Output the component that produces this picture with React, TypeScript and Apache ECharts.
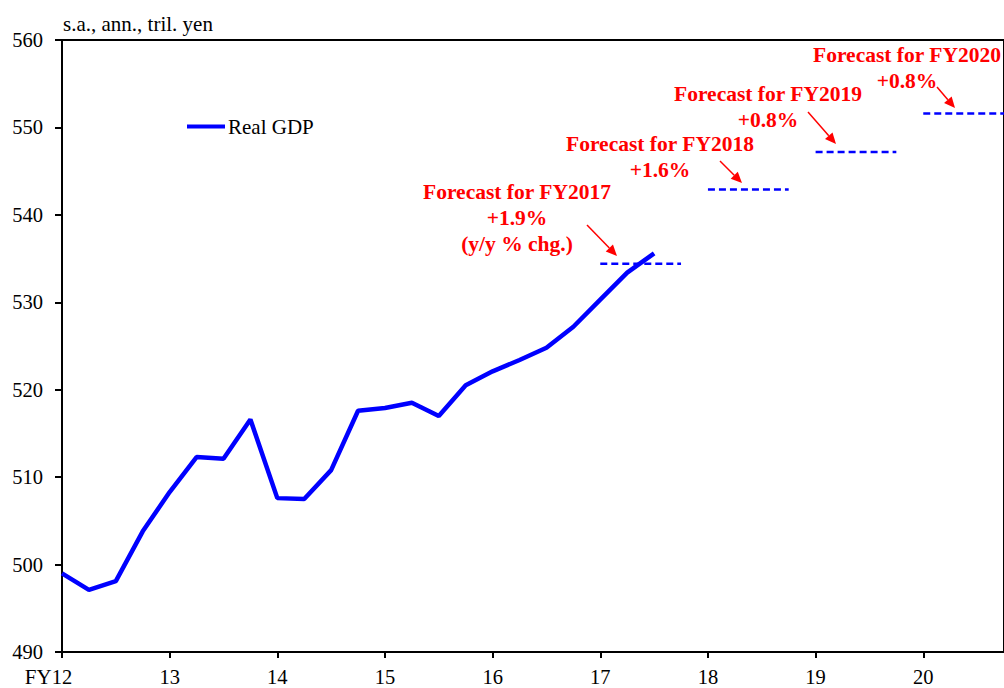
import React, { useEffect, useRef } from "react";
import * as echarts from "echarts";

// Fiscal years shown on the x axis (each split into four quarters)
const fiscalYears = ["12", "13", "14", "15", "16", "17", "18", "19", "20"];
// Real GDP, s.a., annualized, trillion yen, FY2012Q1 .. FY2017Q3
const realGdp = [
  499.0, 497.1, 498.1, 503.8, 508.3, 512.3, 512.1, 516.6, 507.6, 507.5,
  510.8, 517.6, 517.9, 518.5, 517.0, 520.5, 522.1, 523.4, 524.8, 527.2,
  530.3, 533.4, 535.6,
];
// Forecast levels (fiscal-year averages)
const forecastYears = ["17", "18", "19", "20"];
const forecastLevels = [534.4, 542.9, 547.2, 551.6];
const forecastLabels = [
  "Forecast for FY2017\n+1.9%\n(y/y % chg.)",
  "Forecast for FY2018\n+1.6%",
  "Forecast for FY2019\n+0.8%",
  "Forecast for FY2020\n+0.8%",
];
const yTicks = { min: 490, max: 560, interval: 10 };
const unitLabel = "s.a., ann., tril. yen";

const SERIF = "'Liberation Serif', 'Times New Roman', serif";

export default function App() {
  const ref = useRef<HTMLDivElement>(null);

  useEffect(() => {
    document.body.style.margin = "0";
    if (!ref.current) return;
    const chart = echarts.init(ref.current, undefined, { renderer: "svg" });

    const quarters: string[] = [];
    fiscalYears.forEach((fy) => {
      for (let q = 1; q <= 4; q++) quarters.push(fy + "Q" + q);
    });

    const gdpData = quarters.map((_, i) => (i < realGdp.length ? realGdp[i] : null));
    const forecastSeries = forecastYears.map((fy, k) => ({
      name: "Forecast FY20" + fy,
      type: "line",
      data: quarters.map((q) => (q.split("Q")[0] === fy ? forecastLevels[k] : null)),
      symbol: "none",
      connectNulls: false,
      lineStyle: { color: "#0000FF", width: 2.5, type: [7, 4] },
      itemStyle: { color: "#0000FF" },
      z: 2,
    }));

    // annotation positions (pixels)
    const labelPos = [
      [517, 217.5],
      [660, 156.5],
      [768, 106.5],
      [907, 67.5],
    ];
    const arrows = [
      [587, 225, 617, 256],
      [720, 161, 742, 183],
      [808, 112, 836, 144],
      [937, 87, 955, 108],
    ];

    const arrowEls = arrows.map(([x1, y1, x2, y2]) => {
      const dx = x2 - x1;
      const dy = y2 - y1;
      const len = Math.sqrt(dx * dx + dy * dy);
      const ux = dx / len;
      const uy = dy / len;
      const hl = 11;
      const hw = 5;
      const bx = x2 - ux * hl;
      const by = y2 - uy * hl;
      return {
        type: "group",
        children: [
          {
            type: "line",
            shape: { x1, y1, x2: bx, y2: by },
            style: { stroke: "#FF0000", lineWidth: 1.5 },
          },
          {
            type: "polygon",
            shape: {
              points: [
                [x2, y2],
                [bx - uy * hw, by + ux * hw],
                [bx + uy * hw, by - ux * hw],
              ],
            },
            style: { fill: "#FF0000" },
          },
        ],
      };
    });

    const textEls = forecastLabels.map((t, i) => ({
      type: "text",
      x: labelPos[i][0],
      y: labelPos[i][1],
      style: {
        text: t,
        fill: "#FF0000",
        font: `bold 21.5px ${SERIF}`,
        fontFamily: SERIF,
        fontSize: 21.5,
        fontWeight: "bold",
        textAlign: "center",
        textVerticalAlign: "middle",
        lineHeight: 26,
      },
    }));

    chart.setOption({
      animation: false,
      backgroundColor: "#ffffff",
      textStyle: { fontFamily: SERIF },
      title: {
        text: unitLabel,
        left: 58,
        top: 8,
        textStyle: { fontFamily: SERIF, fontSize: 21, fontWeight: "normal", color: "#000" },
      },
      legend: {
        data: ["Real GDP"],
        left: 187,
        top: 116,
        padding: 0,
        icon: "rect",
        itemWidth: 38,
        itemHeight: 4,
        itemGap: 0,
        textStyle: { fontFamily: SERIF, fontSize: 21, color: "#000", padding: [0, 0, 0, -2] },
      },
      grid: {
        left: 62,
        top: 40,
        width: 947,
        bottom: 36,
        show: true,
        borderColor: "#000",
        borderWidth: 2,
        backgroundColor: "transparent",
        containLabel: false,
      },
      xAxis: {
        type: "category",
        data: quarters,
        boundaryGap: false,
        axisLine: { lineStyle: { color: "#000", width: 2 } },
        axisTick: { interval: 3, length: 6, lineStyle: { color: "#000", width: 2 } },
        axisLabel: {
          interval: 3,
          margin: 14,
          color: "#000",
          fontFamily: SERIF,
          fontSize: 20.5,
          formatter: (v: string) => {
            const fy = v.split("Q")[0];
            return fy === fiscalYears[0] ? `{fy|FY}{n|${fy}}{pad|}` : fy;
          },
          rich: {
            fy: { fontFamily: SERIF, fontSize: 21, color: "#000" },
            n: { fontFamily: SERIF, fontSize: 20.5, color: "#000" },
            pad: { width: 27 },
          },
        },
        splitLine: { show: false },
      },
      yAxis: {
        type: "value",
        min: yTicks.min,
        max: yTicks.max,
        interval: yTicks.interval,
        axisLine: { show: true, lineStyle: { color: "#000", width: 2 } },
        axisTick: { show: true, length: 7, lineStyle: { color: "#000", width: 2 } },
        axisLabel: { margin: 19, color: "#000", fontFamily: SERIF, fontSize: 20.5 },
        splitLine: { show: false },
      },
      series: [
        {
          name: "Real GDP",
          type: "line",
          data: gdpData,
          symbol: "none",
          connectNulls: false,
          lineStyle: { color: "#0000FF", width: 4.5 },
          itemStyle: { color: "#0000FF" },
          z: 3,
        },
        ...forecastSeries,
      ],
      graphic: [...arrowEls, ...textEls],
    });

    return () => chart.dispose();
  }, []);

  return <div ref={ref} style={{ width: 1004, height: 688 }} />;
}
